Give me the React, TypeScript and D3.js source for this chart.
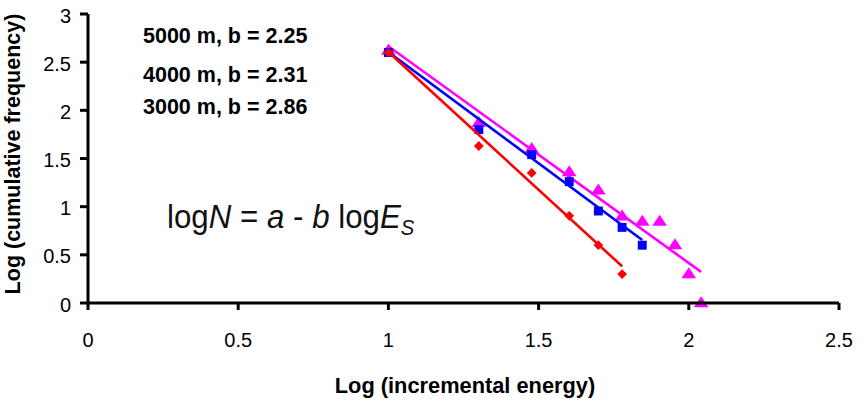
import React from "react";
import * as d3 from "d3";

const xTicks = [0, 0.5, 1, 1.5, 2, 2.5];
const yTicks = [0, 0.5, 1, 1.5, 2, 2.5, 3];
const xTickLabels = ["0", "0.5", "1", "1.5", "2", "2.5"];
const yTickLabels = ["0", "0.5", "1", "1.5", "2", "2.5", "3"];

// 5000 m (magenta triangles)
const x5000 = [1.0, 1.301, 1.477, 1.602, 1.699, 1.778, 1.845, 1.903, 1.954, 2.0, 2.041];
const y5000 = [2.62, 1.87, 1.6, 1.36, 1.17, 0.9, 0.845, 0.845, 0.6, 0.3, 0.0];
// 4000 m (blue squares)
const x4000 = [1.0, 1.301, 1.477, 1.602, 1.699, 1.778, 1.845];
const y4000 = [2.6, 1.8, 1.54, 1.26, 0.955, 0.785, 0.6];
// 3000 m (red diamonds)
const x3000 = [1.0, 1.301, 1.477, 1.602, 1.699, 1.778];
const y3000 = [2.6, 1.63, 1.35, 0.905, 0.6, 0.3];

// fitted lines logN = a - b logE
const fitNames = ["5000 m", "4000 m", "3000 m"];
const fitA = [4.915, 4.916, 5.466];
const fitB = [2.25, 2.31, 2.86];

const annotations = ["5000 m, b = 2.25", "4000 m, b = 2.31", "3000 m, b = 2.86"];

const xTitle = "Log (incremental energy)";
const yTitle = "Log (cumulative frequency)";

const FONT = "'Liberation Sans', Arial, Helvetica, sans-serif";

export default function App() {
  const W = 861;
  const H = 401;
  const x = d3.scaleLinear().domain([0, 2.5]).range([88, 839]);
  const y = d3.scaleLinear().domain([0, 3]).range([303, 14]);

  const series = [
    { xs: x5000, ys: y5000, color: "#FF00FF", shape: "tri", fit: 0 },
    { xs: x4000, ys: y4000, color: "#0000FF", shape: "sq", fit: 1 },
    { xs: x3000, ys: y3000, color: "#FF0000", shape: "dia", fit: 2 },
  ];

  const sym = {
    tri: d3.symbol().type(d3.symbolTriangle).size(70)(),
    sq: d3.symbol().type(d3.symbolSquare).size(80)(),
    dia: d3.symbol().type(d3.symbolSquare).size(48)(),
  } as Record<string, string>;

  const line = d3
    .line<[number, number]>()
    .x((d) => x(d[0]))
    .y((d) => y(d[1]));

  return (
    <svg
      width={W}
      height={H}
      style={{ position: "absolute", left: 0, top: 0, background: "#fff" }}
      fontFamily={FONT}
    >
      <rect x={0} y={0} width={W} height={H} fill="#fff" />

      {/* series: fit lines and markers */}
      {series.map((s, i) => {
        const a = fitA[s.fit];
        const b = fitB[s.fit];
        const x0 = d3.min(s.xs)!;
        const x1 = d3.max(s.xs)!;
        const pts: [number, number][] = [
          [x0, a - b * x0],
          [x1, a - b * x1],
        ];
        return (
          <g key={i} data-name={fitNames[s.fit]}>
            <path d={line(pts) || ""} stroke={s.color} strokeWidth={2.6} fill="none" />
            {s.xs.map((xv, j) => {
              const cx = x(xv);
              const cy = y(s.ys[j]);
              if (s.shape === "dia") {
                return (
                  <path
                    key={j}
                    d={sym.dia}
                    transform={`translate(${cx},${cy}) rotate(45)`}
                    fill={s.color}
                  />
                );
              }
              if (s.shape === "tri") {
                return (
                  <path
                    key={j}
                    d={sym.tri}
                    transform={`translate(${cx},${cy + 0.5}) scale(1.15,1)`}
                    fill={s.color}
                  />
                );
              }
              return <path key={j} d={sym.sq} transform={`translate(${cx},${cy})`} fill={s.color} />;
            })}
          </g>
        );
      })}

      {/* axes */}
      <line x1={x(0)} x2={x(2.5)} y1={y(0)} y2={y(0)} stroke="#000" strokeWidth={3} />
      <line x1={x(0)} x2={x(0)} y1={y(0) + 1.5} y2={y(3)} stroke="#000" strokeWidth={3} />
      {xTicks.map((t, i) => (
        <g key={"xt" + i}>
          <line x1={x(t)} x2={x(t)} y1={y(0)} y2={y(0) + 7} stroke="#000" strokeWidth={3} />
          <text x={x(t)} y={347} textAnchor="middle" fontSize={20} fill="#000">
            {xTickLabels[i]}
          </text>
        </g>
      ))}
      {yTicks.map((t, i) => (
        <g key={"yt" + i}>
          <line x1={x(0) - 8} x2={x(0)} y1={y(t)} y2={y(t)} stroke="#000" strokeWidth={3} />
          <text x={71} y={y(t) + 8.5} textAnchor="end" fontSize={20} fill="#000">
            {yTickLabels[i]}
          </text>
        </g>
      ))}

      {/* axis titles */}
      <text x={465} y={393} textAnchor="middle" fontSize={21.8} fontWeight="bold" fill="#000">
        {xTitle}
      </text>
      <text
        transform={`translate(20,154) rotate(-90)`}
        textAnchor="middle"
        fontSize={21.5}
        fontWeight="bold"
        fill="#000"
      >
        {yTitle}
      </text>

      {/* annotations */}
      {annotations.map((t, i) => (
        <text key={"an" + i} x={143} y={[43, 82, 114][i]} fontSize={21.5} fontWeight="bold" fill="#000">
          {t}
        </text>
      ))}

      {/* formula */}
      <g transform="translate(167,228) scale(0.92,1)">
        <text x={0} y={0} fontSize={34} fill="#111">
          <tspan>log</tspan>
          <tspan fontStyle="italic">N</tspan>
          <tspan> = </tspan>
          <tspan fontStyle="italic">a</tspan>
          <tspan> - </tspan>
          <tspan fontStyle="italic">b</tspan>
          <tspan> log</tspan>
          <tspan fontStyle="italic">E</tspan>
          <tspan fontStyle="italic" fontSize={22} dy={7}>
            S
          </tspan>
        </text>
      </g>
    </svg>
  );
}
